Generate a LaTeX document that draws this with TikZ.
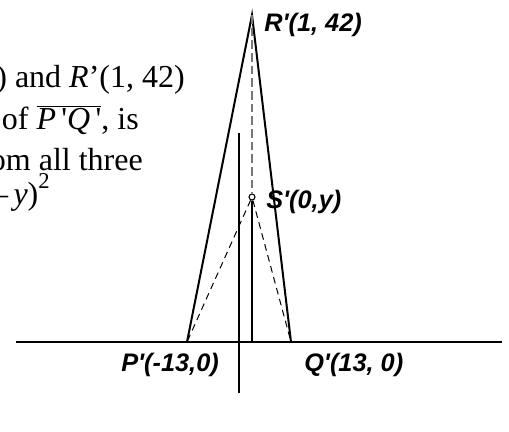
\documentclass[tikz,border=0pt]{standalone}
\usepackage{fontspec}
\setmainfont{Liberation Serif}
\newfontfamily\labelfont{Liberation Sans}
\usetikzlibrary{shapes}

\tikzset{
  axisline/.style={line width=1.5},
  sideline/.style={line width=1.5},
  dashline/.style={line width=0.75, dash pattern={on 5pt off 3.5pt}},
  midline/.style={line width=1.5, color={rgb, 255:red, 120; green, 120; blue, 120}, dash pattern={on 6.5pt off 3pt}},
  ptlabel/.style={anchor=base west, inner sep=0pt, font=\labelfont\bfseries\itshape\fontsize{19}{22}\selectfont},
  bodytext/.style={anchor=base east, inner sep=0pt, font=\fontsize{24}{28}\selectfont}
}

\begin{document}
\begin{tikzpicture}[x=0.75pt,y=0.75pt,yscale=-1,xscale=1]
\useasboundingbox (0,0) rectangle (509,431);

%Points
\coordinate (P) at (187,342);
\coordinate (Q) at (291,342);
\coordinate (R) at (252,15);
\coordinate (F) at (252,342);
\node [circle, draw, line width=0.8, inner sep=0pt, minimum size=4.5] (S) at (252,197) {};
%Axes ends
\coordinate (xl) at (16,342);
\coordinate (xr) at (502,342);
\coordinate (yt) at (239,133);
\coordinate (yb) at (239,393);

%Straight Lines
\draw [axisline] (xl) -- (xr) ;
%Straight Lines
\draw [axisline] (yt) -- (yb) ;
%Straight Lines
\draw [sideline, line join=miter] (P) -- (R) -- (Q) ;
%Straight Lines
\draw [sideline] (S) -- (F) ;
%Straight Lines
\draw [midline] (R) -- (S) ;
%Straight Lines
\draw [dashline] (S) -- (P) ;
%Straight Lines
\draw [dashline] (S) -- (Q) ;

% Text Node
\node [ptlabel] (Rlab) at (264,32) {R'(1, 42)};
% Text Node
\node [ptlabel] (Slab) at (266,208) {S'(0,y)};
% Text Node
\node [ptlabel] (Plab) at (121,371) {P'(-13,0)};
% Text Node
\node [ptlabel] (Qlab) at (304,371) {Q'(13, 0)};

% Text Node
\node [bodytext] (line1) at (185,88) {0) and \textit{R}’(1, 42)};
% Text Node
\node [bodytext] (line2) at (139,129) {of $\overline{\mbox{\textit{P}\,\textquotesingle\textit{Q}\,\textquotesingle}}$, is};
% Text Node
\node [bodytext] (line3) at (143,170) {om all three};
% Text Node
\node [bodytext] (line4) at (50,204) {–\,\textit{y})\raisebox{0.5em}{\fontsize{17}{17}\selectfont 2}};

\end{tikzpicture}
\end{document}
